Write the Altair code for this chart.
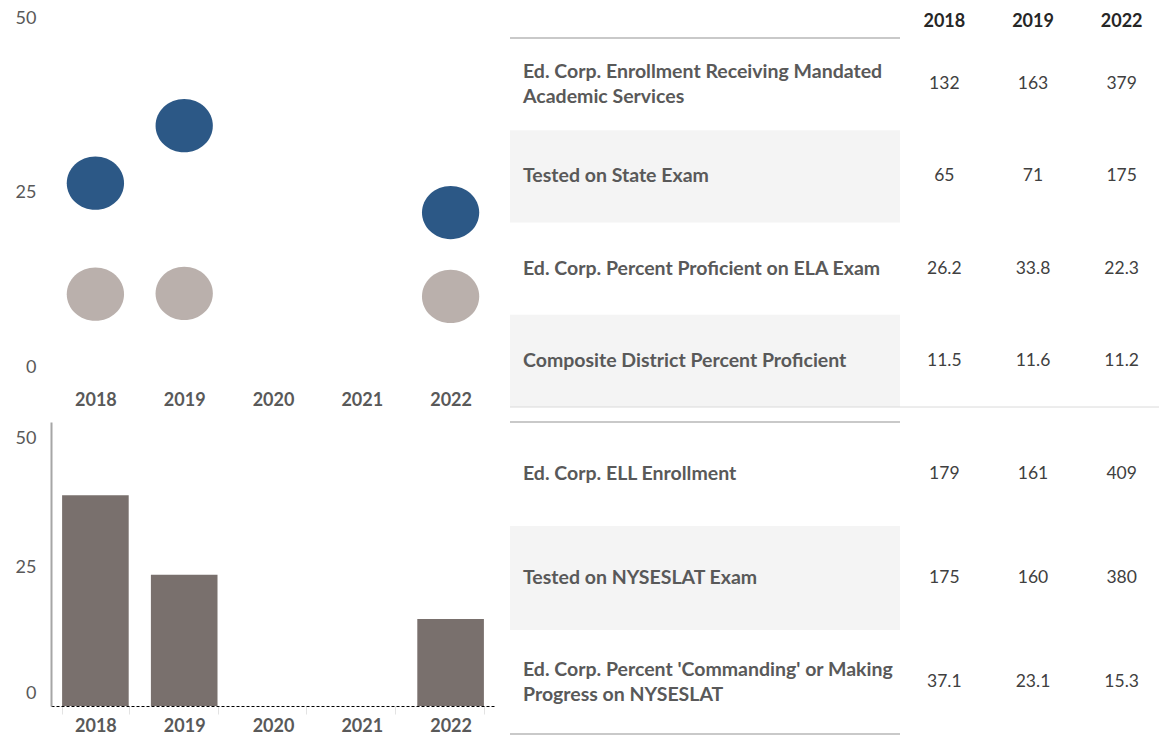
import altair as alt
import pandas as pd

# ---------------- data ----------------
YEARS = ["2018", "2019", "2020", "2021", "2022"]
DATA_YEARS = ["2018", "2019", "2022"]
ED_CORP_ELA = [26.2, 33.8, 22.3]
DISTRICT_ELA = [11.5, 11.6, 11.2]
ELL_PROGRESS = [37.1, 23.1, 15.3]

TABLE_YEARS = ["2018", "2019", "2022"]
TOP_LABELS = [
    "Ed. Corp. Enrollment Receiving Mandated\nAcademic Services",
    "Tested on State Exam",
    "Ed. Corp. Percent Proficient on ELA Exam",
    "Composite District Percent Proficient",
]
TOP_VALUES = [
    ["132", "163", "379"],
    ["65", "71", "175"],
    ["26.2", "33.8", "22.3"],
    ["11.5", "11.6", "11.2"],
]
BOTTOM_LABELS = [
    "Ed. Corp. ELL Enrollment",
    "Tested on NYSESLAT Exam",
    "Ed. Corp. Percent 'Commanding' or Making\nProgress on NYSESLAT",
]
BOTTOM_VALUES = [
    ["179", "161", "409"],
    ["175", "160", "380"],
    ["37.1", "23.1", "15.3"],
]
TOP_SHADED = [1, 3]
BOTTOM_SHADED = [1]

# ---------------- style ----------------
FONT = "Lato"
BLUE = "#2C5886"
LIGHT = "#BAB0AC"
BAR = "#79706D"
LABEL_GRAY = "#595959"
VALUE_GRAY = "#404040"
SHADE = "#F4F4F4"
LINE = "#C9C9C9"
ELLIPSE = "M -1 0 A 1 0.93 0 1 0 1 0 A 1 0.93 0 1 0 -1 0 Z"
LINE_H = 25

PLOT_W = 444
DOTS_H = 373
BARS_H = 284
LABEL_W = 390
VALUES_W = 266
TABLE_W = LABEL_W + VALUES_W
TOP_TABLE_H = 399
HEADER_H = 30
BOTTOM_TABLE_H = 312


def year_x(axis):
    return alt.X(
        "year:N",
        scale=alt.Scale(domain=YEARS, paddingInner=0.25, paddingOuter=0.125),
        axis=axis,
    )


def y_offsets(top, bottom, other):
    return {
        "condition": [
            {"test": "datum.value == 50", "value": top},
            {"test": "datum.value == 0", "value": bottom},
        ],
        "value": other,
    }


# ---------------- dot chart ----------------
dots_df = pd.DataFrame(
    {
        "year": DATA_YEARS * 2,
        "value": ED_CORP_ELA + DISTRICT_ELA,
        "series": ["Ed. Corp."] * 3 + ["District"] * 3,
    }
)

dots = (
    alt.Chart(dots_df)
    .mark_point(shape=ELLIPSE, filled=True, size=3280, opacity=1, strokeWidth=0)
    .encode(
        x=year_x(
            alt.Axis(
                title=None, labelAngle=0, domain=False, ticks=False,
                labelFont=FONT, labelFontSize=18, labelFontWeight="bold",
                labelColor=LABEL_GRAY, labelPadding=10,
            )
        ),
        y=alt.Y(
            "value:Q",
            scale=alt.Scale(domain=[0, 50], range=[DOTS_H, -4.6], nice=False),
            axis=alt.Axis(
                title=None, values=[0, 25, 50], domain=False, ticks=False, grid=False,
                labelFont=FONT, labelFontSize=18, labelColor=LABEL_GRAY,
                labelPadding=15, labelOffset=y_offsets(15.5, -14, 0),
            ),
        ),
        color=alt.Color(
            "series:N",
            scale=alt.Scale(domain=["Ed. Corp.", "District"], range=[BLUE, LIGHT]),
            legend=None,
        ),
    )
    .properties(width=PLOT_W, height=DOTS_H)
)

# ---------------- bar chart ----------------
bars_df = pd.DataFrame({"year": DATA_YEARS, "value": ELL_PROGRESS})

bars = (
    alt.Chart(bars_df)
    .mark_bar(color=BAR)
    .encode(
        x=year_x(
            alt.Axis(
                title=None, labelAngle=0, domain=True, domainColor="#000000",
                domainDash=[3, 2], domainWidth=1, ticks=True, tickBand="extent",
                tickColor="#E3E3E3", tickSize=8, labelFont=FONT, labelFontSize=18,
                labelFontWeight="bold", labelColor=LABEL_GRAY, labelPadding=3,
            )
        ),
        y=alt.Y(
            "value:Q",
            scale=alt.Scale(domain=[0, 50], nice=False),
            axis=alt.Axis(
                title=None, values=[0, 25, 50], domain=True, domainColor="#A6A6A6",
                domainWidth=2, ticks=False, grid=False, labelFont=FONT,
                labelFontSize=18, labelColor=LABEL_GRAY, labelPadding=15,
                labelOffset=y_offsets(16, -12.7, 3.5),
            ),
        ),
    )
    .properties(width=PLOT_W, height=BARS_H)
)


# ---------------- tables ----------------
def table(labels, values, shaded, height, header_h, header, bottom_full):
    ids = list(range(len(labels)))
    y = alt.Y(
        "row:O",
        scale=alt.Scale(domain=ids, range=[header_h, height], paddingInner=0, paddingOuter=0),
        axis=None,
    )
    x = alt.X(
        "year:N",
        scale=alt.Scale(domain=TABLE_YEARS, range=[LABEL_W, TABLE_W], paddingInner=0, paddingOuter=0),
        axis=None,
    )

    shade_df = pd.DataFrame({"row": shaded})
    one = pd.DataFrame({"k": [0]})

    layers = [
        alt.Chart(shade_df).mark_rect(color=SHADE).encode(
            y=y, x=alt.value(0), x2=alt.value(LABEL_W)
        )
    ]
    # label texts, grouped by number of lines so each block is centred in its row
    for n_lines in sorted({lab.count("\n") + 1 for lab in labels}):
        sub = [(i, lab) for i, lab in zip(ids, labels) if lab.count("\n") + 1 == n_lines]
        sub_df = pd.DataFrame({"row": [s[0] for s in sub], "label": [s[1] for s in sub]})
        layers.append(
            alt.Chart(sub_df).mark_text(
                align="left", baseline="middle", font=FONT, fontSize=19.5,
                fontWeight="bold", color=LABEL_GRAY, lineBreak="\n", lineHeight=LINE_H,
                dy=-(n_lines - 1) * LINE_H / 2,
            ).encode(y=y, x=alt.value(13), text="label:N")
        )
    layers.append(
        alt.Chart(one).mark_rule(color=LINE, strokeWidth=2).encode(
            y=alt.value(header_h), x=alt.value(0), x2=alt.value(LABEL_W)
        )
    )
    if bottom_full:
        layers.append(
            alt.Chart(one).mark_rule(color="#DADADA", strokeWidth=1).encode(
                y=alt.value(height), x=alt.value(0), x2=alt.value(TABLE_W)
            )
        )
    else:
        layers.append(
            alt.Chart(one).mark_rule(color=LINE, strokeWidth=2).encode(
                y=alt.value(height), x=alt.value(0), x2=alt.value(LABEL_W)
            )
        )

    val_rows = []
    for i, row in enumerate(values):
        for yr, v in zip(TABLE_YEARS, row):
            val_rows.append({"row": i, "year": yr, "value": v})
    val_df = pd.DataFrame(val_rows)
    layers.append(
        alt.Chart(val_df).mark_text(
            align="center", baseline="middle", font=FONT, fontSize=17.5, color=VALUE_GRAY
        ).encode(x=x, y=y, text="value:N")
    )
    if header:
        layers.append(
            alt.Chart(pd.DataFrame({"year": TABLE_YEARS})).mark_text(
                align="center", baseline="middle", font=FONT, fontSize=18,
                fontWeight="bold", color="#262626",
            ).encode(x=x, y=alt.value(header_h / 2 - 1), text="year:N")
        )
    return alt.layer(*layers).properties(width=TABLE_W, height=height)


top_table = table(TOP_LABELS, TOP_VALUES, TOP_SHADED, TOP_TABLE_H, HEADER_H, True, True)
bottom_table = table(BOTTOM_LABELS, BOTTOM_VALUES, BOTTOM_SHADED, BOTTOM_TABLE_H, 0, False, False)

chart = (
    alt.concat(dots, top_table, bars, bottom_table, columns=2,
               spacing={"row": 15, "column": 15}, bounds="flush")
    .properties(padding={"left": 7, "top": 0, "right": -8, "bottom": 0})
    .configure(font=FONT, view=alt.ViewConfig(stroke=None))
)

chart.save("out.html", embed_options={"renderer": "svg", "actions": False})
